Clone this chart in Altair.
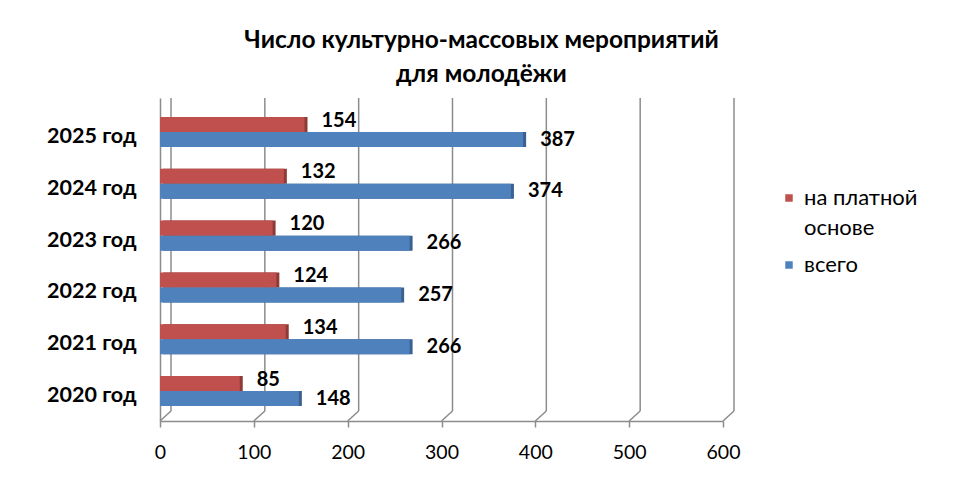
import altair as alt
import pandas as pd

years = ["2025 год", "2024 год", "2023 год", "2022 год", "2021 год", "2020 год"]
paid = [154, 132, 120, 124, 134, 85]
total = [387, 374, 266, 257, 266, 148]
series = ["на платной основе", "всего"]
ticks = [0, 100, 200, 300, 400, 500, 600]
title_lines = ["Число культурно-массовых мероприятий", "для молодёжи"]

rows = []
for yr, p, t in zip(years, paid, total):
    rows.append({"year": yr, "series": series[0], "shade": series[0], "value": p})
    rows.append({"year": yr, "series": series[1], "shade": series[1], "value": t})
df = pd.DataFrame(rows)
grid_df = pd.DataFrame({"tick": ticks})

W, H = 563, 323
FONT = "Lato"
GRID = "#8c8c8c"

xscale = alt.Scale(domain=[0, 600], nice=False)
yscale = alt.Scale(domain=years, paddingInner=0.42, paddingOuter=0.328, align=0.56)
oscale = alt.Scale(domain=series)
cscale = alt.Scale(domain=series, range=["#C0504D", "#4F81BD"])
dscale = alt.Scale(domain=series, range=["#8E3A37", "#3A6190"])

xaxis = alt.Axis(values=ticks, grid=False, domainColor=GRID, domainWidth=1.5,
                 tickColor=GRID, tickWidth=1.5, tickSize=6,
                 labelFont=FONT, labelFontSize=19.5, labelColor="black",
                 labelPadding=16, labelFlush=False)
yaxis = alt.Axis(ticks=False, domainColor=GRID, domainWidth=1.5,
                 labelFont=FONT, labelFontSize=21.5, labelFontWeight="bold",
                 labelColor="black", labelPadding=24, labelOffset=5)

back = alt.Chart(grid_df).mark_rule(color=GRID, strokeWidth=1.5, xOffset=11).encode(
    x=alt.X("tick:Q", scale=xscale, axis=xaxis, title=None),
    y=alt.value(0),
    y2=alt.value(313),
)
diag = alt.Chart(grid_df).mark_rule(color=GRID, strokeWidth=1.5, xOffset=11).encode(
    x=alt.X("tick:Q", scale=xscale),
    x2=alt.X2("tick:Q"),
    y=alt.value(313),
    y2=alt.value(323),
)

depth = alt.Chart(df).mark_bar(xOffset=3, x2Offset=3, yOffset=-3, y2Offset=-3).encode(
    x=alt.X("value:Q", scale=xscale),
    y=alt.Y("year:N", scale=yscale, axis=yaxis, title=None),
    yOffset=alt.YOffset("series:N", scale=oscale),
    color=alt.Color("shade:N", scale=dscale, legend=None),
)

bars = alt.Chart(df).mark_bar().encode(
    x=alt.X("value:Q", scale=xscale),
    y=alt.Y("year:N", scale=yscale),
    yOffset=alt.YOffset("series:N", scale=oscale),
    fill=alt.Fill("series:N", scale=cscale, title=None,
                  legend=alt.Legend(orient="none", legendX=618, legendY=89,
                                    symbolType="square", symbolSize=56,
                                    symbolStrokeWidth=0,
                                    labelFont=FONT, labelFontSize=22, labelColor="black",
                                    labelLimit=0, rowPadding=15, labelOffset=4,
                                    labelExpr="datum.label == 'всего' ? 'всего' : ['на платной', 'основе']")),
)

def value_labels(name, dy):
    return alt.Chart(df).transform_filter(alt.datum.series == name).mark_text(
        align="left", baseline="middle", dx=17, dy=dy, font=FONT,
        fontSize=20, fontWeight="bold", color="black").encode(
        x=alt.X("value:Q", scale=xscale),
        y=alt.Y("year:N", scale=yscale),
        yOffset=alt.YOffset("series:N", scale=oscale),
        text="value:Q",
    )

chart = alt.layer(back, diag, depth, bars,
                  value_labels(series[0], -4), value_labels(series[1], 0)).properties(
    width=W, height=H,
    title=alt.TitleParams(title_lines, font=FONT, fontSize=24.5, fontWeight="bold",
                          color="black", lineHeight=34, anchor="middle", dx=40, offset=10),
    autosize=alt.AutoSizeParams(type="none"),
    padding={"left": 152, "top": 90, "right": 225, "bottom": 48},
).resolve_legend(color="independent", fill="independent").configure(
    style={"guide-label": {"lineHeight": 30}}).configure_view(stroke=None)

chart.save("out.html", embed_options={"renderer": "svg", "actions": False})
